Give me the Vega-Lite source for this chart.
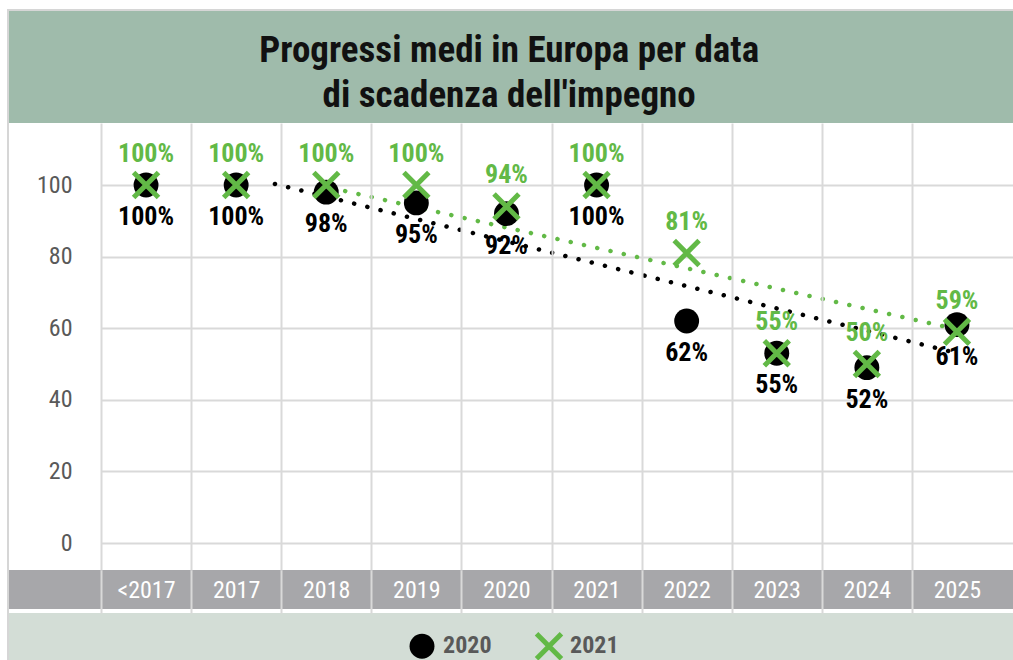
{
  "$schema": "https://vega.github.io/schema/vega-lite/v6.json",
  "autosize": "none",
  "width": 912,
  "height": 447,
  "padding": {"left": 101, "top": 123, "right": 0, "bottom": 90},
  "background": "#ffffff",
  "config": {"view": {"stroke": null}},
  "datasets": {
    "pts": [
      {"year": "<2017", "i": 0, "s": "2020", "v": 100, "lab": "100%"},
      {"year": "2017", "i": 1, "s": "2020", "v": 100, "lab": "100%"},
      {"year": "2018", "i": 2, "s": "2020", "v": 98, "lab": "98%"},
      {"year": "2019", "i": 3, "s": "2020", "v": 95, "lab": "95%"},
      {"year": "2020", "i": 4, "s": "2020", "v": 92, "lab": "92%"},
      {"year": "2021", "i": 5, "s": "2020", "v": 100, "lab": "100%"},
      {"year": "2022", "i": 6, "s": "2020", "v": 62, "lab": "62%"},
      {"year": "2023", "i": 7, "s": "2020", "v": 53, "lab": "55%"},
      {"year": "2024", "i": 8, "s": "2020", "v": 49, "lab": "52%"},
      {"year": "2025", "i": 9, "s": "2020", "v": 61, "lab": "61%"},
      {"year": "<2017", "i": 0, "s": "2021", "v": 100, "lab": "100%"},
      {"year": "2017", "i": 1, "s": "2021", "v": 100, "lab": "100%"},
      {"year": "2018", "i": 2, "s": "2021", "v": 100, "lab": "100%"},
      {"year": "2019", "i": 3, "s": "2021", "v": 100, "lab": "100%"},
      {"year": "2020", "i": 4, "s": "2021", "v": 94, "lab": "94%"},
      {"year": "2021", "i": 5, "s": "2021", "v": 100, "lab": "100%"},
      {"year": "2022", "i": 6, "s": "2021", "v": 81, "lab": "81%"},
      {"year": "2023", "i": 7, "s": "2021", "v": 53, "lab": "55%"},
      {"year": "2024", "i": 8, "s": "2021", "v": 50, "lab": "50%"},
      {"year": "2025", "i": 9, "s": "2021", "v": 59, "lab": "59%"}
    ],
    "trend": [
      {"s": "2020", "i": 1.43, "v": 100.3},
      {"s": "2020", "i": 8.99, "v": 53.1},
      {"s": "2021", "i": 2.21, "v": 98.3},
      {"s": "2021", "i": 8.89, "v": 60.3}
    ]
  },
  "layer": [
    {
      "data": {"values": [{}]},
      "mark": {"type": "rect", "filled": false, "stroke": "#d6d6d6", "strokeWidth": 2},
      "encoding": {
        "x": {"datum": -1.532, "type": "quantitative", "scale": {"domain": [-0.5, 9.622], "nice": false, "zero": false}},
        "x2": {"datum": 10},
        "y": {"datum": 148.88, "type": "quantitative", "scale": {"domain": [-7.54, 117.32], "nice": false, "zero": false}},
        "y2": {"datum": -40}
      }
    },
    {
      "data": {"values": [{}]},
      "mark": {"type": "rect", "fill": "#9fbbab"},
      "encoding": {
        "x": {"datum": -1.521, "type": "quantitative", "scale": {"domain": [-0.5, 9.622], "nice": false, "zero": false}},
        "x2": {"datum": 10},
        "y": {"datum": 117.32, "type": "quantitative", "scale": {"domain": [-7.54, 117.32], "nice": false, "zero": false}},
        "y2": {"datum": 148.6}
      }
    },
    {
      "data": {"values": [{}]},
      "mark": {"type": "rect", "fill": "#a7a7aa"},
      "encoding": {
        "x": {"datum": -1.521, "type": "quantitative", "scale": {"domain": [-0.5, 9.622], "nice": false, "zero": false}},
        "x2": {"datum": 10},
        "y": {"datum": -7.54, "type": "quantitative", "scale": {"domain": [-7.54, 117.32], "nice": false, "zero": false}},
        "y2": {"datum": -18.44}
      }
    },
    {
      "data": {"values": [{}]},
      "mark": {"type": "rect", "fill": "#d3ddd6"},
      "encoding": {
        "x": {"datum": -1.521, "type": "quantitative", "scale": {"domain": [-0.5, 9.622], "nice": false, "zero": false}},
        "x2": {"datum": 10},
        "y": {"datum": -19.55, "type": "quantitative", "scale": {"domain": [-7.54, 117.32], "nice": false, "zero": false}},
        "y2": {"datum": -40}
      }
    },
    {
      "data": {"values": [{}]},
      "mark": {"type": "text", "text": ["Progressi medi in Europa per data", "di scadenza dell'impegno"], "font": "'Roboto Condensed', Roboto, sans-serif", "fontSize": 37, "fontWeight": "bold", "color": "#111111", "align": "center", "baseline": "alphabetic", "lineHeight": 45},
      "encoding": {
        "x": {"datum": 4.03, "type": "quantitative", "scale": {"domain": [-0.5, 9.622], "nice": false, "zero": false}},
        "y": {"datum": 134.36, "type": "quantitative", "scale": {"domain": [-7.54, 117.32], "nice": false, "zero": false}}
      }
    },
    {
      "data": {"name": "trend"},
      "transform": [{"filter": "datum.s == '2020'"}],
      "mark": {"type": "line", "strokeDash": [0.1, 13.5], "strokeCap": "round", "strokeWidth": 4.5, "color": "#000000"},
      "encoding": {
        "x": {"field": "i", "type": "quantitative", "scale": {"domain": [-0.5, 9.622], "nice": false, "zero": false}},
        "y": {"field": "v", "type": "quantitative", "scale": {"domain": [-7.54, 117.32], "nice": false, "zero": false}}
      }
    },
    {
      "data": {"name": "trend"},
      "transform": [{"filter": "datum.s == '2021'"}],
      "mark": {"type": "line", "strokeDash": [0.1, 13.5], "strokeCap": "round", "strokeWidth": 4.5, "color": "#62b946"},
      "encoding": {
        "x": {"field": "i", "type": "quantitative", "scale": {"domain": [-0.5, 9.622], "nice": false, "zero": false}},
        "y": {"field": "v", "type": "quantitative", "scale": {"domain": [-7.54, 117.32], "nice": false, "zero": false}}
      }
    },
    {
      "data": {"name": "pts"},
      "mark": {"type": "point", "size": 620, "strokeWidth": 5, "opacity": 1},
      "encoding": {
        "x": {
          "field": "i", "type": "quantitative",
          "scale": {"domain": [-0.5, 9.622], "nice": false, "zero": false},
          "axis": {
            "values": [-0.5, 0.5, 1.5, 2.5, 3.5, 4.5, 5.5, 6.5, 7.5, 8.5],
            "labelExpr": "['<2017','2017','2018','2019','2020','2021','2022','2023','2024','2025'][round(datum.value + 0.5)]",
            "labelOffset": 45, "labelPadding": -23, "labelBaseline": "middle", "labelAlign": "center",
            "labelColor": "#ffffff", "labelFontSize": 24, "labelFont": "'Roboto Condensed', Roboto, sans-serif",
            "labelFlush": false, "labelOverlap": false, "labelBound": false,
            "grid": true, "gridColor": "#d9d9d9", "gridWidth": 2,
            "ticks": true, "tickSize": 43, "tickColor": "#d9d9d9", "tickWidth": 2,
            "domain": false, "title": null, "zindex": 1
          }
        },
        "y": {
          "field": "v", "type": "quantitative",
          "scale": {"domain": [-7.54, 117.32], "nice": false, "zero": false},
          "axis": {
            "values": [0, 20, 40, 60, 80, 100],
            "grid": true, "gridColor": "#d9d9d9", "gridWidth": 2,
            "ticks": false, "domain": false, "title": null,
            "labelPadding": 29, "labelFontSize": 24, "labelColor": "#595959",
            "labelFont": "'Roboto Condensed', Roboto, sans-serif"
          }
        },
        "shape": {
          "field": "s", "type": "nominal",
          "scale": {"domain": ["2020", "2021"], "range": ["circle", "M-1,-1L1,1M1,-1L-1,1"]},
          "legend": {
            "orient": "none", "legendX": 306, "legendY": 508, "direction": "horizontal", "zindex": 2,
            "title": null, "padding": 0, "columnPadding": 34, "labelOffset": 6,
            "symbolSize": 620, "symbolStrokeWidth": 5, "symbolOpacity": 1,
            "labelFontSize": 24, "labelColor": "#595959", "labelFontWeight": "bold",
            "labelFont": "'Roboto Condensed', Roboto, sans-serif"
          }
        },
        "fill": {"field": "s", "type": "nominal", "scale": {"domain": ["2020", "2021"], "range": ["#000000", "transparent"]}},
        "stroke": {"field": "s", "type": "nominal", "scale": {"domain": ["2020", "2021"], "range": ["transparent", "#62b946"]}}
      }
    },
    {
      "data": {"name": "pts"},
      "transform": [{"filter": "datum.s == '2020'"}],
      "mark": {"type": "text", "dy": 32, "baseline": "middle", "align": "center", "fontSize": 26, "fontWeight": "bold", "color": "#000000", "font": "'Roboto Condensed', Roboto, sans-serif"},
      "encoding": {
        "x": {"field": "i", "type": "quantitative", "scale": {"domain": [-0.5, 9.622], "nice": false, "zero": false}},
        "y": {"field": "v", "type": "quantitative", "scale": {"domain": [-7.54, 117.32], "nice": false, "zero": false}},
        "text": {"field": "lab"}
      }
    },
    {
      "data": {"name": "pts"},
      "transform": [{"filter": "datum.s == '2021'"}],
      "mark": {"type": "text", "dy": -31, "baseline": "middle", "align": "center", "fontSize": 26, "fontWeight": "bold", "color": "#62b946", "font": "'Roboto Condensed', Roboto, sans-serif"},
      "encoding": {
        "x": {"field": "i", "type": "quantitative", "scale": {"domain": [-0.5, 9.622], "nice": false, "zero": false}},
        "y": {"field": "v", "type": "quantitative", "scale": {"domain": [-7.54, 117.32], "nice": false, "zero": false}},
        "text": {"field": "lab"}
      }
    }
  ]
}
